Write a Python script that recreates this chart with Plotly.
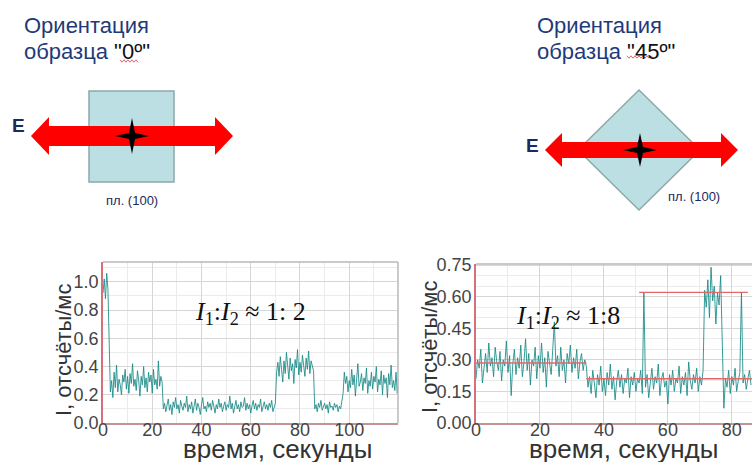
import plotly.graph_objects as go

W, H = 752, 462


def px(x):
    return x / W


def py(y):
    return 1 - y / H


# ---------------- data (0.5 s steps) ----------------
left_values = [
    0.92, 1.02, 0.88, 1.06, 0.95, 0.45, 0.22, 0.30, 0.18, 0.36,
    0.25, 0.41, 0.22, 0.31, 0.27, 0.20, 0.34, 0.29, 0.38, 0.24,
    0.33, 0.21, 0.35, 0.28, 0.42, 0.26, 0.31, 0.23, 0.37, 0.30,
    0.19, 0.33, 0.27, 0.40, 0.25, 0.32, 0.22, 0.36, 0.29, 0.34,
    0.21, 0.38, 0.27, 0.31, 0.24, 0.44, 0.26, 0.33, 0.29, 0.10,
    0.14, 0.08, 0.12, 0.17, 0.09, 0.13, 0.06, 0.15, 0.11, 0.18,
    0.10, 0.13, 0.07, 0.16, 0.12, 0.09, 0.14, 0.11, 0.19, 0.08,
    0.13, 0.10, 0.15, 0.07, 0.12, 0.17, 0.09, 0.14, 0.11, 0.06,
    0.13, 0.18, 0.10, 0.12, 0.08, 0.15, 0.11, 0.14, 0.09, 0.16,
    0.12, 0.07, 0.13, 0.10, 0.17, 0.11, 0.14, 0.08, 0.12, 0.15,
    0.09, 0.13, 0.11, 0.19, 0.10, 0.14, 0.07, 0.12, 0.16, 0.10,
    0.13, 0.08, 0.15, 0.11, 0.12, 0.18, 0.09, 0.14, 0.10, 0.13,
    0.07, 0.12, 0.16, 0.10, 0.14, 0.09, 0.13, 0.11, 0.17, 0.08,
    0.12, 0.15, 0.10, 0.13, 0.09, 0.14, 0.11, 0.16, 0.08, 0.12,
    0.14, 0.36, 0.43, 0.33, 0.47, 0.38, 0.29, 0.44, 0.35, 0.50,
    0.40, 0.31, 0.46, 0.37, 0.42, 0.28, 0.45, 0.39, 0.52, 0.34,
    0.43, 0.36, 0.48, 0.40, 0.33, 0.46, 0.38, 0.51, 0.35, 0.44,
    0.41, 0.37, 0.10, 0.13, 0.08, 0.14, 0.11, 0.16, 0.09, 0.12,
    0.14, 0.10, 0.13, 0.07, 0.15, 0.11, 0.12, 0.09, 0.14, 0.11,
    0.13, 0.08, 0.12, 0.10, 0.15, 0.21, 0.36, 0.28, 0.33, 0.22,
    0.30, 0.25, 0.38, 0.27, 0.34, 0.19, 0.31, 0.42, 0.26, 0.29,
    0.35, 0.23, 0.32, 0.28, 0.39, 0.21, 0.30, 0.26, 0.36, 0.24,
    0.33, 0.29, 0.40, 0.22, 0.31, 0.27, 0.37, 0.20, 0.34, 0.28,
    0.32, 0.18, 0.35, 0.27, 0.41, 0.25, 0.30, 0.23, 0.36, 0.21, 0.29,
]

right_values = [
    0.21, 0.30, 0.26, 0.35, 0.19, 0.28, 0.33, 0.24, 0.38, 0.27,
    0.31, 0.22, 0.36, 0.29, 0.25, 0.34, 0.20, 0.30, 0.27, 0.39,
    0.24, 0.32, 0.13, 0.28, 0.35, 0.23, 0.31, 0.26, 0.37, 0.22,
    0.29, 0.40, 0.25, 0.33, 0.18, 0.30, 0.27, 0.36, 0.21, 0.32,
    0.26, 0.38, 0.24, 0.31, 0.17, 0.34, 0.28, 0.23, 0.35, 0.48,
    0.27, 0.32, 0.22, 0.36, 0.25, 0.30, 0.19, 0.33, 0.28, 0.37,
    0.24, 0.31, 0.26, 0.35, 0.21, 0.29, 0.33, 0.25, 0.30, 0.27,
    0.17, 0.22, 0.14, 0.25, 0.19, 0.12, 0.23, 0.18, 0.27, 0.15,
    0.21, 0.13, 0.24, 0.18, 0.28, 0.16, 0.22, 0.11, 0.20, 0.25,
    0.17, 0.23, 0.14, 0.21, 0.19, 0.26, 0.12, 0.22, 0.18, 0.24,
    0.15, 0.21, 0.19, 0.25, 0.14, 0.62, 0.17, 0.23, 0.12, 0.20,
    0.26, 0.16, 0.22, 0.19, 0.28, 0.13, 0.21, 0.24, 0.17, 0.20,
    0.09, 0.23, 0.18, 0.25, 0.15, 0.21, 0.19, 0.27, 0.14, 0.22,
    0.18, 0.24, 0.13, 0.29, 0.20, 0.16, 0.23, 0.19, 0.26, 0.15,
    0.22, 0.18, 0.25, 0.63, 0.55, 0.68, 0.50, 0.74, 0.58, 0.65,
    0.47, 0.62, 0.56, 0.70, 0.44, 0.07, 0.21, 0.17, 0.25, 0.14,
    0.22, 0.18, 0.26, 0.15, 0.20, 0.24, 0.62, 0.19, 0.23, 0.16,
    0.21, 0.25, 0.18,
]

left_t = [0.5 * i for i in range(len(left_values))]
right_t = [0.5 * i for i in range(len(right_values))]

left_xticks = [0, 20, 40, 60, 80, 100]
left_xlabels = ["0", "20", "40", "60", "80", "100"]
left_yticks = [0.0, 0.2, 0.4, 0.6, 0.8, 1.0]
left_ylabels = ["0.0", "0.2", "0.4", "0.6", "0.8", "1.0"]
right_xticks = [0, 20, 40, 60, 80]
right_xlabels = ["0", "20", "40", "60", "80"]
right_yticks = [0.0, 0.15, 0.30, 0.45, 0.60, 0.75]
right_ylabels = ["0.00", "0.15", "0.30", "0.45", "0.60", "0.75"]

level_x_start = [0, 34.5, 51]
level_x_end = [34.5, 86.3, 85]
level_y = [0.285, 0.21, 0.62]

# ---------------- figure ----------------
TEAL = "rgba(22,138,134,0.85)"
fig = go.Figure()
fig.add_trace(go.Scatter(x=left_t, y=left_values, mode="lines",
                         line=dict(color=TEAL, width=1), xaxis="x", yaxis="y"))
fig.add_trace(go.Scatter(x=right_t, y=right_values, mode="lines",
                         line=dict(color=TEAL, width=1), xaxis="x2", yaxis="y2"))
for xs, xe, yv in zip(level_x_start, level_x_end, level_y):
    fig.add_trace(go.Scatter(x=[xs, xe], y=[yv, yv], mode="lines",
                             line=dict(color="#e06868", width=1.3),
                             xaxis="x2", yaxis="y2"))

TICKFONT = dict(family="Liberation Sans", size=18, color="#444444")
GRID = "#d6d6d6"
MINOR = "#ebebeb"


def xaxis(domain, rng, tv, tt, anchor):
    return dict(domain=domain, range=rng, anchor=anchor, tickmode="array",
                tickvals=tv, ticktext=tt, showgrid=True, gridcolor=GRID,
                minor=dict(dtick=10, showgrid=True, gridcolor=MINOR),
                showline=True, linecolor="#c49494", linewidth=1.5,
                ticks="", zeroline=False, tickfont=TICKFONT, fixedrange=True,
                automargin=False, ticklabelstandoff=-10)


def yaxis(domain, rng, tv, tt, anchor, mdt):
    return dict(domain=domain, range=rng, anchor=anchor, tickmode="array",
                tickvals=tv, ticktext=tt, showgrid=True, gridcolor=GRID,
                minor=dict(dtick=mdt, showgrid=True, gridcolor=MINOR),
                showline=True, linecolor="#d8707c", linewidth=1.5,
                ticks="", zeroline=False, tickfont=TICKFONT, fixedrange=True,
                automargin=False, ticklabelstandoff=-1)


fig.update_layout(
    width=W, height=H, margin=dict(l=0, r=0, t=0, b=0, pad=0),
    paper_bgcolor="white", plot_bgcolor="white", showlegend=False,
    xaxis=xaxis([px(103), px(398)], [0, 119.8], left_xticks, left_xlabels, "y"),
    yaxis=yaxis([py(423), py(262)], [0, 1.14], left_yticks, left_ylabels, "x", 0.1),
    xaxis2=xaxis([px(476), 1.0], [0, 86.3], right_xticks, right_xlabels, "y2"),
    yaxis2=yaxis([py(423), py(264)], [0, 0.755], right_yticks, right_ylabels, "x2", 0.05),
)

shapes = []
# top / right borders of the plots
for xr, yr in (("x", "y"), ("x2", "y2")):
    shapes.append(dict(type="line", xref=f"{xr} domain", yref=f"{yr} domain",
                       x0=0, x1=1, y0=1, y1=1, line=dict(color="#b8b8b8", width=1.5)))
shapes.append(dict(type="line", xref="x domain", yref="y domain",
                   x0=1, x1=1, y0=0, y1=1, line=dict(color="#b8b8b8", width=1.5)))


def path(points, close=True):
    s = "M " + " L ".join(f"{px(x):.5f},{py(y):.5f}" for x, y in points)
    return s + (" Z" if close else "")


def arrow(x0, x1, cy, shaft, head, hl):
    return path([(x0, cy), (x0 + hl, cy - head), (x0 + hl, cy - shaft),
                 (x1 - hl, cy - shaft), (x1 - hl, cy - head), (x1, cy),
                 (x1 - hl, cy + head), (x1 - hl, cy + shaft), (x0 + hl, cy + shaft),
                 (x0 + hl, cy + head)])


def star(cx, cy, rv, rh, ri):
    return path([(cx, cy - rv), (cx + ri, cy - ri), (cx + rh, cy), (cx + ri, cy + ri),
                 (cx, cy + rv), (cx - ri, cy + ri), (cx - rh, cy), (cx - ri, cy - ri)])


def wavy(x0, x1, y):
    pts = []
    x = x0
    k = 0
    while x <= x1:
        pts.append((x, y + (1.2 if k % 2 else -1.2)))
        x += 2
        k += 1
    return path(pts, close=False)


SAMPLE_FILL = "#bcdfe3"
SAMPLE_LINE = "#8fa8a9"
# left diagram
shapes.append(dict(type="rect", xref="paper", yref="paper", x0=px(89), x1=px(174),
                   y0=py(182), y1=py(91), fillcolor=SAMPLE_FILL,
                   line=dict(color=SAMPLE_LINE, width=1.5)))
shapes.append(dict(type="path", xref="paper", yref="paper", path=arrow(31, 233, 136, 10, 19, 18),
                   fillcolor="#ff0000", line=dict(width=0)))
shapes.append(dict(type="path", xref="paper", yref="paper", path=star(132, 136, 18, 17, 3),
                   fillcolor="#000000", line=dict(width=0)))
# right diagram
shapes.append(dict(type="path", xref="paper", yref="paper",
                   path=path([(639, 90), (700, 150), (639, 210), (578, 150)]),
                   fillcolor=SAMPLE_FILL, line=dict(color=SAMPLE_LINE, width=1.5)))
shapes.append(dict(type="path", xref="paper", yref="paper", path=arrow(545, 738, 150, 8, 17, 17),
                   fillcolor="#ff0000", line=dict(width=0)))
shapes.append(dict(type="path", xref="paper", yref="paper", path=star(640, 150, 17, 17, 3),
                   fillcolor="#000000", line=dict(width=0)))
# spell-check squiggles
shapes.append(dict(type="path", xref="paper", yref="paper", path=wavy(120, 138, 61),
                   line=dict(color="#e04040", width=0.8)))
shapes.append(dict(type="path", xref="paper", yref="paper", path=wavy(627, 653, 57),
                   line=dict(color="#e04040", width=0.8)))
fig.update_layout(shapes=shapes)

TITLE = "#1f3a78"
NAVY = "#1b2a5e"
ann = []


def text(x, y, t, size, color, xanchor="center", family="Liberation Sans", angle=0):
    ann.append(dict(x=px(x), y=py(y), xref="paper", yref="paper", text=t, showarrow=False,
                    xanchor=xanchor, yanchor="middle", textangle=angle,
                    font=dict(family=family, size=size, color=color)))


text(22, 25, "Ориентация", 22, TITLE, "left")
text(22, 52, "образца <span style='color:#111'>\"0º\"</span>", 22, TITLE, "left")
text(535, 25, "Ориентация", 22, TITLE, "left")
text(535, 52, "образца <span style='color:#111'>\"45º\"</span>", 22, TITLE, "left")
text(18, 125, "<b>E</b>", 19, NAVY)
text(532, 145, "<b>E</b>", 19, NAVY)
text(132, 200, "пл. (100)", 13, NAVY)
text(694, 196, "пл. (100)", 13, NAVY)

text(63, 350, "I, отсчёты/мс", 22, "#333333", angle=-90)
text(429, 347, "I, отсчёты/мс", 22, "#333333", angle=-90)
text(277, 449, "время, секунды", 26, "#333333")
text(623, 449, "время, секунды", 26, "#333333")

text(251, 313, "<i>I</i><sub>1</sub>:<i>I</i><sub>2</sub> ≈ 1: 2", 26, "#111111",
     family="Liberation Serif")
text(568, 317, "<i>I</i><sub>1</sub>:<i>I</i><sub>2</sub> ≈ 1:8", 26, "#111111",
     family="Liberation Serif")
fig.update_layout(annotations=ann)

fig.write_html("out.html",
               post_script="document.body.style.margin='0';document.body.style.padding='0';")
